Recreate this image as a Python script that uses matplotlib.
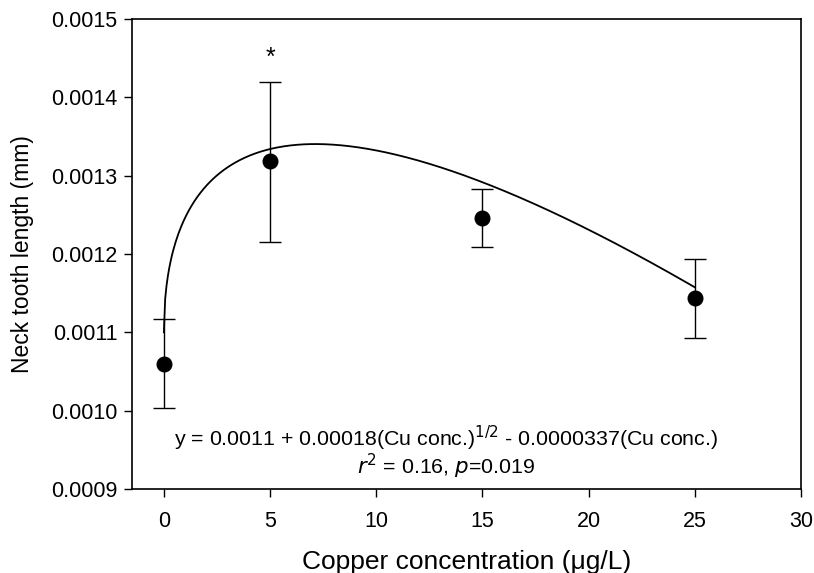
import numpy as np
import matplotlib
matplotlib.use("Agg")
import matplotlib.pyplot as plt

plt.rcParams['font.family'] = ['Liberation Sans', 'DejaVu Sans']

# Data
conc = [0, 5, 15, 25]
mean_len = [0.00106, 0.001319, 0.001246, 0.001144]
err_up = [0.001117, 0.00142, 0.001283, 0.001194]
err_low = [0.001003, 0.001215, 0.001209, 0.001093]

# Fitted model coefficients: y = a + b*sqrt(x) - c*x
fit_a = 0.0011
fit_b = 0.00018
fit_c = 0.0000337
fit_range = (0, 25)

xticks = [0, 5, 10, 15, 20, 25, 30]
yticks = [0.0009, 0.0010, 0.0011, 0.0012, 0.0013, 0.0014, 0.0015]
ytick_labels = ["0.0009", "0.0010", "0.0011", "0.0012", "0.0013", "0.0014", "0.0015"]

fig = plt.figure(figsize=(8.14, 5.73), dpi=100)
ax = fig.add_axes([132/814, 1-489/573, (801-132)/814, (489-19)/573])

xf = np.linspace(fit_range[0], fit_range[1], 400)
yf = fit_a + fit_b*np.sqrt(xf) - fit_c*xf
ax.plot(xf, yf, color='black', lw=1.3)

m = np.array(mean_len)
yerr = np.array([m - np.array(err_low), np.array(err_up) - m])
ax.errorbar(conc, mean_len, yerr=yerr, fmt='o', color='black', ms=10.5,
            capsize=8, elinewidth=1.0, capthick=1.0, zorder=3)

ax.text(5, 0.00145, "*", ha='center', va='center', fontsize=18)

ax.text(13.3, 0.000965,
        r"y = 0.0011 + 0.00018(Cu conc.)$^{1/2}$ - 0.0000337(Cu conc.)",
        ha='center', va='center', fontsize=15.4)
ax.text(13.3, 0.000929, r"$\it{r}^{2}$ = 0.16, $\it{p}$=0.019",
        ha='center', va='center', fontsize=15.4)

ax.set_xlim(-1.5, 30)
ax.set_ylim(0.0009, 0.0015)
ax.set_xticks(xticks)
ax.set_yticks(yticks)
ax.set_yticklabels(ytick_labels)
ax.tick_params(axis='both', direction='out', length=5.5, width=1, labelsize=15.5,
               top=False, right=False, pad=5)
ax.tick_params(axis='x', pad=10)
for s in ax.spines.values():
    s.set_linewidth(1.2)

ax.set_ylabel("Neck tooth length (mm)", fontsize=16.5, labelpad=12)
ax.set_xlabel("Copper concentration (μg/L)", fontsize=19, labelpad=13)

fig.savefig("out.png", dpi=100)
